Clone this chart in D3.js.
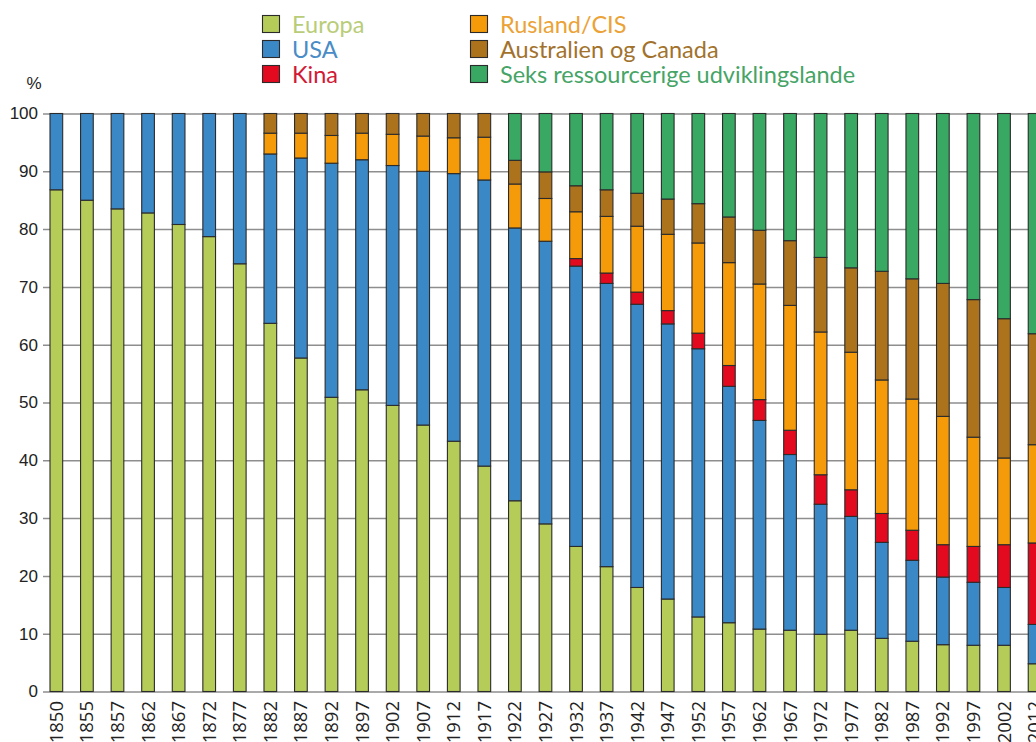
<!DOCTYPE html>
<html>
<head>
<meta charset="utf-8">
<script src="https://cdn.jsdelivr.net/npm/d3@7"></script>
<style>
  html, body { margin: 0; padding: 0; background: #fff; overflow: hidden; }
</style>
</head>
<body>
<div id="chart"></div>
<script>
// years on the x axis
var years = ["1850", "1855", "1857", "1862", "1867", "1872", "1877", "1882", "1887", "1892",
             "1897", "1902", "1907", "1912", "1917", "1922", "1927", "1932", "1937", "1942",
             "1947", "1952", "1957", "1962", "1967", "1972", "1977", "1982", "1987", "1992",
             "1997", "2002", "2012"];

// share (%) per region
var europa = [86.8, 85.0, 83.5, 82.8, 80.8, 78.7, 74.0, 63.7, 57.7, 50.9,
              52.2, 49.5, 46.1, 43.3, 39.0, 33.0, 29.0, 25.1, 21.6, 18.0,
              16.0, 12.9, 11.9, 10.8, 10.6, 9.9, 10.6, 9.2, 8.7, 8.1,
              8.0, 8.0, 4.8];
var usa = [13.2, 15.0, 16.5, 17.2, 19.2, 21.3, 26.0, 29.3, 34.6, 40.5,
           39.8, 41.5, 43.9, 46.3, 49.5, 47.2, 48.9, 48.5, 49.0, 49.0,
           47.6, 46.4, 40.9, 36.1, 30.4, 22.5, 19.7, 16.6, 14.0, 11.7,
           10.9, 10.0, 6.8];
var kina = [0, 0, 0, 0, 0, 0, 0, 0, 0, 0,
            0, 0, 0, 0, 0, 0, 0, 1.3, 1.8, 2.1,
            2.3, 2.7, 3.6, 3.6, 4.2, 5.1, 4.6, 5.0, 5.2, 5.6,
            6.2, 7.4, 14.1];
var rusland = [0, 0, 0, 0, 0, 0, 0, 3.6, 4.3, 4.8,
               4.6, 5.4, 6.1, 6.2, 7.4, 7.6, 7.4, 8.1, 9.8, 11.4,
               13.2, 15.6, 17.8, 20.0, 21.6, 24.7, 23.8, 23.1, 22.7, 22.2,
               18.9, 15.0, 17.0];
var australien = [0, 0, 0, 0, 0, 0, 0, 3.4, 3.4, 3.8,
                  3.4, 3.6, 3.9, 4.2, 4.1, 4.1, 4.6, 4.5, 4.6, 5.7,
                  6.1, 6.8, 7.9, 9.3, 11.2, 12.9, 14.6, 18.8, 20.8, 23.0,
                  23.8, 24.1, 19.2];
var seks = [0, 0, 0, 0, 0, 0, 0, 0, 0, 0,
            0, 0, 0, 0, 0, 8.1, 10.1, 12.5, 13.2, 13.8,
            14.8, 15.6, 17.9, 20.2, 22.0, 24.9, 26.7, 27.3, 28.6, 29.4,
            32.2, 35.5, 38.1];

var seriesKeys = ["europa", "usa", "kina", "rusland", "australien", "seks"];
var seriesNames = ["Europa", "USA", "Kina", "Rusland/CIS", "Australien og Canada",
                   "Seks ressourcerige udviklingslande"];
var yTicks = [0, 10, 20, 30, 40, 50, 60, 70, 80, 90, 100];

var fills = {
    europa: "#b5cc59", usa: "#3b88c7", kina: "#e30a1f",
    rusland: "#f59b0a", australien: "#ad731c", seks: "#38a862"
};
var textColors = {
    europa: "#b9cd78", usa: "#4a8cc6", kina: "#d11a35",
    rusland: "#eba236", australien: "#a2722c", seks: "#45a466"
};

var w = 1036;
var h = 742;

var svg = d3.select("#chart")
            .append("svg")
            .attr("width", w)
            .attr("height", h);

// table for d3.stack
var table = years.map(function(y, i) {
    return {
        year: y, europa: europa[i], usa: usa[i], kina: kina[i],
        rusland: rusland[i], australien: australien[i], seks: seks[i]
    };
});

var x = d3.scaleBand()
          .domain(years)
          .range([50, 50 + 30.57 * (years.length - 0.585)])
          .paddingInner(0.585)
          .paddingOuter(0);

var y = d3.scaleLinear()
          .domain([0, 100])
          .range([691.5, 113.5]);

// gridlines + y labels
var yAxis = svg.append("g")
    .attr("transform", "translate(43,0)")
    .call(d3.axisLeft(y).tickValues(yTicks).tickSize(-1000).tickPadding(5));
yAxis.select(".domain").remove();
yAxis.selectAll(".tick line")
     .attr("stroke", "#8e8e8e")
     .attr("stroke-width", 1.5);
yAxis.selectAll(".tick text")
     .attr("fill", "#222")
     .style("font-family", "'Liberation Sans', Arial, sans-serif")
     .style("font-size", "17px");

svg.append("text")
   .attr("x", 34)
   .attr("y", 89)
   .attr("text-anchor", "middle")
   .attr("fill", "#222")
   .style("font-family", "'Liberation Sans', Arial, sans-serif")
   .style("font-size", "17px")
   .text("%");

// stacked bars
var stack = d3.stack().keys(seriesKeys);
var layers = stack(table);

svg.selectAll("g.layer")
   .data(layers)
   .enter()
   .append("g")
   .attr("class", "layer")
   .attr("fill", function(d) { return fills[d.key]; })
   .selectAll("rect")
   .data(function(d) { return d.filter(function(p) { return p[1] - p[0] > 0; }); })
   .enter()
   .append("rect")
   .attr("x", function(d) { return x(d.data.year); })
   .attr("width", x.bandwidth())
   .attr("y", function(d) { return y(d[1]); })
   .attr("height", function(d) { return y(d[0]) - y(d[1]); })
   .attr("stroke", "#2b2b2b")
   .attr("stroke-width", 1.1);

// x labels, rotated (the bottom edge cuts them, as in the original)
svg.selectAll("text.xlab")
   .data(years)
   .enter()
   .append("text")
   .attr("class", "xlab")
   .attr("transform", function(d) {
       return "translate(" + (x(d) + x.bandwidth() / 2 + 6.5) + ",701) rotate(-90)";
   })
   .attr("text-anchor", "end")
   .attr("fill", "#222")
   .style("font-family", "'Open Sans', sans-serif")
   .style("font-size", "18.5px")
   .text(function(d) { return d; });

// legend, two columns of three
var legend = svg.append("g");
seriesKeys.forEach(function(k, i) {
    var col = Math.floor(i / 3);
    var row = i % 3;
    var lx = col === 0 ? 262 : 470;
    var ly = 15 + row * 25;
    legend.append("rect")
          .attr("x", lx + 0.5)
          .attr("y", ly + 0.5)
          .attr("width", 17)
          .attr("height", 17)
          .attr("fill", fills[k])
          .attr("stroke", "#2b2b2b")
          .attr("stroke-width", 1.1);
    legend.append("text")
          .attr("x", lx + (col === 0 ? 30 : 30))
          .attr("y", ly + 18)
          .attr("fill", textColors[k])
          .style("font-family", "Lato, sans-serif")
          .style("font-size", "23.5px")
          .text(seriesNames[i]);
});
</script>
</body>
</html>
